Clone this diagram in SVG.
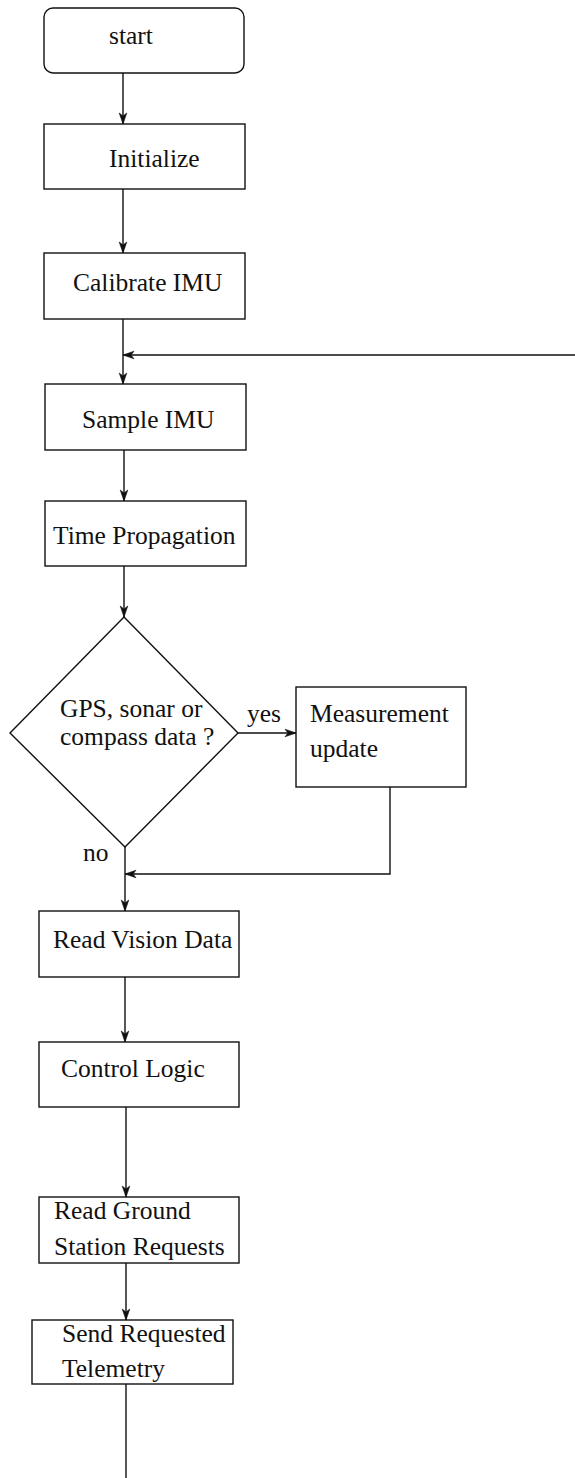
<svg xmlns="http://www.w3.org/2000/svg" width="575" height="1478" viewBox="0 0 575 1478">
  <style>
    .box { fill: #fff; stroke: #111; stroke-width: 1.4; }
    .wire { fill: none; stroke: #111; stroke-width: 1.4; }
    .lbl { font-family: "Liberation Serif", "Times New Roman", serif; font-size: 25.5px; fill: #111; }
  </style>
  <defs>
    <marker id="arrow" viewBox="-12 -5 13 10" refX="0" refY="0" markerWidth="13" markerHeight="10" markerUnits="userSpaceOnUse" orient="auto">
      <path d="M0,0 L-11,-3.8 L-8,0 L-11,3.8 Z" fill="#111" stroke="#111" stroke-width="0.6" stroke-linejoin="miter"/>
    </marker>
  </defs>
  <rect width="575" height="1478" fill="#fff"/>

  <!-- connectors -->
  <g id="connectors">
    <path class="wire" d="M123,73 V124" marker-end="url(#arrow)"/>
    <path class="wire" d="M123,189 V253" marker-end="url(#arrow)"/>
    <path class="wire" d="M123,319 V384" marker-end="url(#arrow)"/>
    <path class="wire" d="M575,355 H123" marker-end="url(#arrow)"/>
    <path class="wire" d="M124,450 V501" marker-end="url(#arrow)"/>
    <path class="wire" d="M124,566 V617" marker-end="url(#arrow)"/>
    <path class="wire" d="M238,733 H296" marker-end="url(#arrow)"/>
    <path class="wire" d="M390,787 V874 H125" marker-end="url(#arrow)"/>
    <path class="wire" d="M125,847 V911" marker-end="url(#arrow)"/>
    <path class="wire" d="M125,977 V1042" marker-end="url(#arrow)"/>
    <path class="wire" d="M126,1107 V1197" marker-end="url(#arrow)"/>
    <path class="wire" d="M126,1263 V1320" marker-end="url(#arrow)"/>
    <path class="wire" d="M126,1384 V1478"/>
    <text class="lbl" x="247" y="722">yes</text>
    <text class="lbl" x="83" y="861">no</text>
  </g>

  <g id="start">
    <rect class="box" x="44" y="8" width="200" height="65" rx="9" ry="9"/>
    <text class="lbl" x="109" y="44">start</text>
  </g>

  <g id="initialize">
    <rect class="box" x="44" y="124" width="201" height="65"/>
    <text class="lbl" x="109" y="167">Initialize</text>
  </g>

  <g id="calibrate-imu">
    <rect class="box" x="44" y="253" width="201" height="66"/>
    <text class="lbl" x="73" y="291">Calibrate IMU</text>
  </g>

  <g id="sample-imu">
    <rect class="box" x="45" y="384" width="201" height="66"/>
    <text class="lbl" x="82" y="428">Sample IMU</text>
  </g>

  <g id="time-propagation">
    <rect class="box" x="45" y="501" width="201" height="65"/>
    <text class="lbl" x="53" y="544">Time Propagation</text>
  </g>

  <g id="sensor-check">
    <polygon class="box" points="124,617 238,733 125,847 10,733"/>
    <text class="lbl" x="60" y="717">GPS, sonar or</text>
    <text class="lbl" x="60" y="745">compass data ?</text>
  </g>

  <g id="measurement-update">
    <rect class="box" x="296" y="687" width="170" height="100"/>
    <text class="lbl" x="310" y="722">Measurement</text>
    <text class="lbl" x="310" y="757">update</text>
  </g>

  <g id="read-vision-data">
    <rect class="box" x="39" y="911" width="200" height="66"/>
    <text class="lbl" x="53" y="948">Read Vision Data</text>
  </g>

  <g id="control-logic">
    <rect class="box" x="39" y="1042" width="200" height="65"/>
    <text class="lbl" x="61" y="1077">Control Logic</text>
  </g>

  <g id="read-ground-station">
    <rect class="box" x="39" y="1197" width="200" height="66"/>
    <text class="lbl" x="54" y="1219">Read Ground</text>
    <text class="lbl" x="54" y="1255">Station Requests</text>
  </g>

  <g id="send-telemetry">
    <rect class="box" x="32" y="1320" width="201" height="64"/>
    <text class="lbl" x="62" y="1342">Send Requested</text>
    <text class="lbl" x="62" y="1377">Telemetry</text>
  </g>
</svg>
